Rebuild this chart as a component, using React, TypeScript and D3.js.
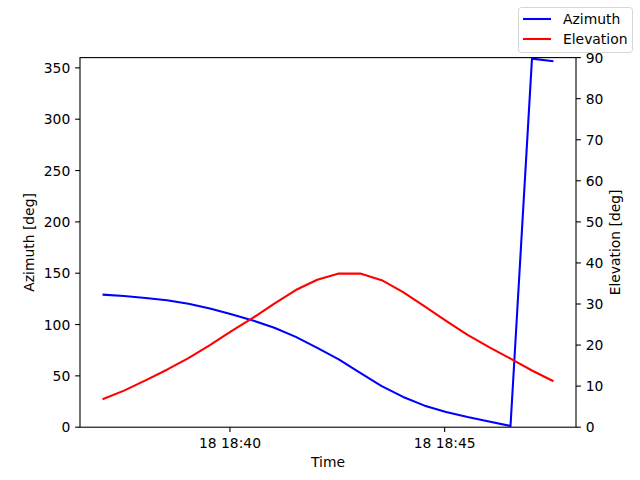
import React from "react";
import * as d3 from "d3";

const times = [
  "18:37:02", "18:37:32", "18:38:02", "18:38:32", "18:39:02", "18:39:32",
  "18:40:02", "18:40:32", "18:41:02", "18:41:32", "18:42:02", "18:42:32",
  "18:43:02", "18:43:32", "18:44:02", "18:44:32", "18:45:02", "18:45:32",
  "18:46:02", "18:46:32", "18:47:02", "18:47:32",
];
const azimuth = [
  129.1, 127.8, 125.9, 123.6, 120.3, 115.6, 110.0, 104.0, 96.8, 88.0, 77.3,
  66.0, 52.8, 40.0, 29.5, 21.0, 14.8, 9.9, 5.5, 1.2, 359.0, 356.5,
];
const elevation = [
  6.8, 8.9, 11.4, 14.0, 16.8, 20.0, 23.4, 26.6, 30.1, 33.4, 35.9,
  37.4, 37.4, 35.8, 32.9, 29.4, 25.9, 22.5, 19.5, 16.7, 13.8, 11.2,
];
const xTickTimes = ["18:40:00", "18:45:00"];
const azTicks = [0, 50, 100, 150, 200, 250, 300, 350];
const elTicks = [0, 10, 20, 30, 40, 50, 60, 70, 80, 90];
const seriesNames = ["Azimuth", "Elevation"];

const toDate = (t: string) => {
  const [h, m, s] = t.split(":").map(Number);
  return new Date(Date.UTC(2023, 5, 18, h, m, s));
};

export default function App() {
  const W = 640, H = 480;
  const L = 80, R = 576, T = 57.6, B = 427.2;
  const fs = 13.89;
  const font = "DejaVu Sans";
  const dates = times.map(toDate);
  const ext = d3.extent(dates) as [Date, Date];
  const span = ext[1].getTime() - ext[0].getTime();
  const x = d3.scaleUtc()
    .domain([new Date(ext[0].getTime() - span * 0.05), new Date(ext[1].getTime() + span * 0.05)])
    .range([L, R]);
  const yA = d3.scaleLinear().domain([0, 360]).range([B, T]);
  const yE = d3.scaleLinear().domain([0, 90]).range([B, T]);
  const fmt = d3.utcFormat("%d %H:%M");
  const lineA = d3.line<number>().x((_, i) => x(dates[i])).y((d) => yA(d));
  const lineE = d3.line<number>().x((_, i) => x(dates[i])).y((d) => yE(d));
  const tickLen = 4.86;
  const colors = ["#0000ff", "#ff0000"];

  return (
    <svg width={W} height={H} style={{ position: "absolute", left: 0, top: 0, background: "#fff" }}
      fontFamily={font} fontSize={fs}>
      <rect x={0} y={0} width={W} height={H} fill="#fff" />
      <path d={lineA(azimuth) || ""} fill="none" stroke={colors[0]} strokeWidth={2.08} strokeLinejoin="round" />
      <path d={lineE(elevation) || ""} fill="none" stroke={colors[1]} strokeWidth={2.08} strokeLinejoin="round" />
      <rect x={L} y={T} width={R - L} height={B - T} fill="none" stroke="#000" strokeWidth={1.1} />
      {xTickTimes.map((t) => {
        const d = toDate(t);
        const px = x(d);
        return (
          <g key={t}>
            <line x1={px} x2={px} y1={B} y2={B + tickLen} stroke="#000" strokeWidth={1.1} />
            <text x={px} y={B + tickLen + 4.86 + 11} textAnchor="middle" fill="#000">{fmt(d)}</text>
          </g>
        );
      })}
      {azTicks.map((v) => (
        <g key={"a" + v}>
          <line x1={L - tickLen} x2={L} y1={yA(v)} y2={yA(v)} stroke="#000" strokeWidth={1.1} />
          <text x={L - tickLen - 4.86} y={yA(v)} dy="0.36em" textAnchor="end" fill="#000">{v}</text>
        </g>
      ))}
      {elTicks.map((v) => (
        <g key={"e" + v}>
          <line x1={R} x2={R + tickLen} y1={yE(v)} y2={yE(v)} stroke="#000" strokeWidth={1.1} />
          <text x={R + tickLen + 4.86} y={yE(v)} dy="0.36em" textAnchor="start" fill="#000">{v}</text>
        </g>
      ))}
      <text x={(L + R) / 2} y={467} textAnchor="middle" fill="#000">Time</text>
      <text transform={`translate(34,${(T + B) / 2}) rotate(-90)`} textAnchor="middle" fill="#000">Azimuth [deg]</text>
      <text transform={`translate(620,${(T + B) / 2}) rotate(-90)`} textAnchor="middle" fill="#000">Elevation [deg]</text>
      <g>
        <rect x={518.5} y={7.5} width={114} height={45} rx={3} fill="#fff" fillOpacity={0.8} stroke="#d6d6d6" strokeWidth={1} />
        {seriesNames.map((n, i) => (
          <g key={n}>
            <line x1={523} x2={551} y1={19 + i * 20} y2={19 + i * 20} stroke={colors[i]} strokeWidth={2.08} />
            <text x={563} y={19 + i * 20} dy="0.36em" fill="#000">{n}</text>
          </g>
        ))}
      </g>
    </svg>
  );
}
